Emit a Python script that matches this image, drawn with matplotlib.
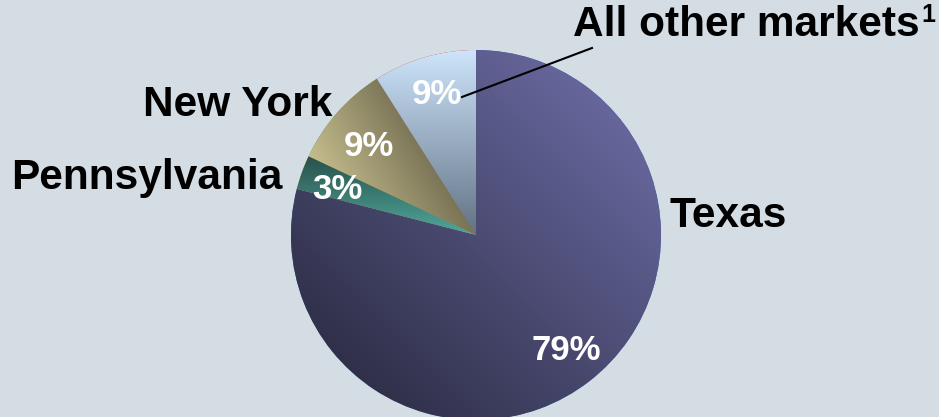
import numpy as np
import matplotlib.pyplot as plt
from matplotlib.colors import LinearSegmentedColormap

plt.rcParams['font.family'] = ['Liberation Sans', 'DejaVu Sans']

# data
markets = ['Texas', 'Pennsylvania', 'New York', 'All other markets']
shares = [79, 3, 9, 9]
# gradient colours per slice: (light end, dark end, direction in degrees light->dark)
grad = [('#66669c', '#30304a', 225),
        ('#4fa89c', '#2a514c', 90),
        ('#c6bd8d', '#7a7457', 30),
        ('#cde4fb', '#627284', -90)]

bg = '#d4dce4'
fig = plt.figure(figsize=(9.39, 4.17), dpi=100)
fig.patch.set_facecolor(bg)
ax = fig.add_axes([0, 0, 1, 1])

cx, cy, r = 476, 235, 185
wedges, _ = ax.pie(shares, startangle=-90, counterclock=True, radius=r,
                   center=(cx, cy), frame=True,
                   wedgeprops=dict(edgecolor='none'))
ax.set_aspect('equal')

# overlay gradient fills clipped to each wedge
n = 300
xs = np.linspace(cx - r, cx + r, n)
ys = np.linspace(cy - r, cy + r, n)
X, Y = np.meshgrid(xs, ys)
for w, (c1, c2, ang) in zip(wedges, grad):
    a = np.deg2rad(ang)
    proj = lambda px, py: (px - cx) * np.cos(a) - (py - cy) * np.sin(a)
    verts = w.get_patch_transform().transform(w.get_path().vertices)
    pv = proj(verts[:, 0], verts[:, 1])
    t = (proj(X, Y) - pv.min()) / (pv.max() - pv.min())
    cmap = LinearSegmentedColormap.from_list('g', [c1, c2])
    im = ax.imshow(np.clip(t, 0, 1), cmap=cmap, vmin=0, vmax=1,
                   extent=(cx - r, cx + r, cy + r, cy - r),
                   origin='upper', interpolation='bilinear', zorder=2)
    im.set_clip_path(w)
ax.set_xlim(0, 939)
ax.set_ylim(417, 0)
ax.axis('off')

# percentage labels
pct_pos = [(566, 351), (337, 189), (369, 147), (437, 94)]
for v, (x, y) in zip(shares, pct_pos):
    ax.text(x, y, f'{v}%', ha='center', va='center', fontsize=25,
            fontweight='bold', color='white', zorder=5)

# category labels
fs = 30.5
ax.text(670, 227, markets[0], ha='left', va='baseline', fontsize=fs, fontweight='bold', zorder=5)
ax.text(283, 189, markets[1], ha='right', va='baseline', fontsize=fs, fontweight='bold', zorder=5)
ax.text(332, 116, markets[2], ha='right', va='baseline', fontsize=fs, fontweight='bold', zorder=5)
t_other = ax.text(573, 36, markets[3], ha='left', va='baseline', fontsize=fs,
                  fontweight='bold', zorder=5)

# footnote marker placed right after the label
fig.canvas.draw()
x_end = t_other.get_window_extent().x1
x_end_data = ax.transData.inverted().transform((x_end, 0))[0]
ax.text(x_end_data + 2, 22, '1', ha='left', va='baseline', fontsize=18,
        fontweight='bold', zorder=5)
ax.plot([462, 592], [97, 48], color='black', lw=1.5, zorder=5)

fig.savefig('out.png', dpi=100, facecolor=bg)
